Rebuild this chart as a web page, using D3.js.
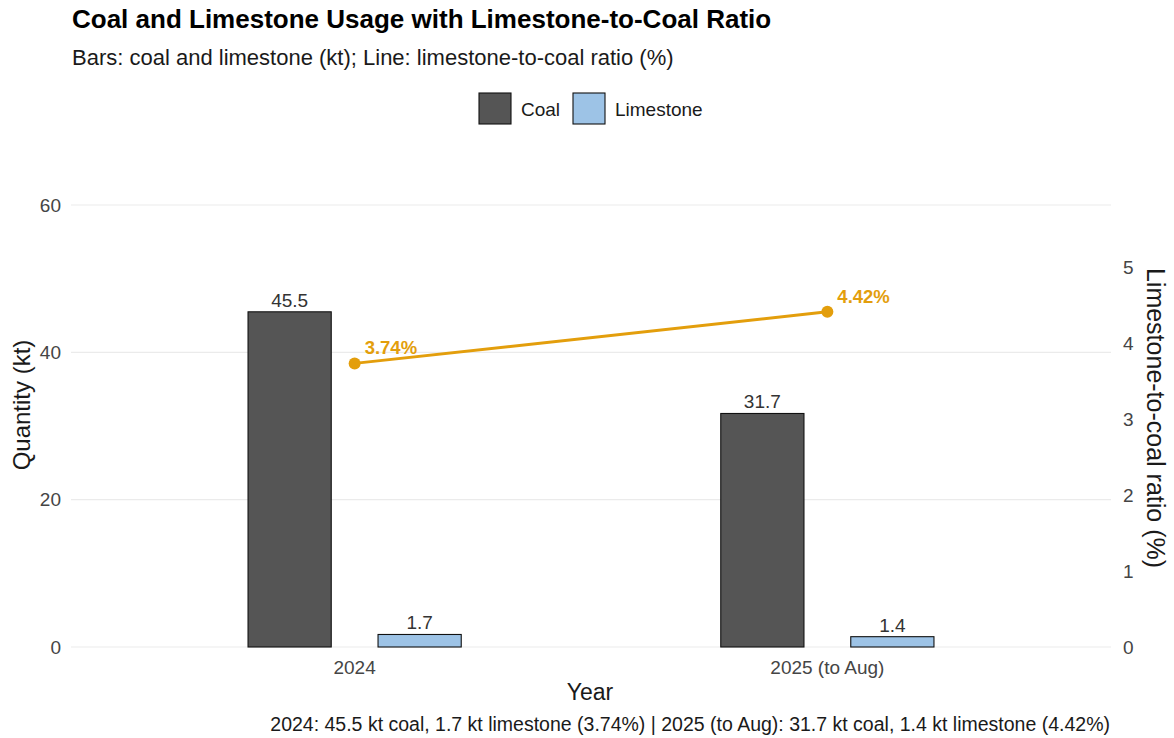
<!DOCTYPE html>
<html>
<head>
<meta charset="utf-8">
<script src="https://cdn.jsdelivr.net/npm/d3@7"></script>
<style>
  body { margin: 0; background: #fff; }
  svg { font-family: "Liberation Sans", Arial, sans-serif; }
</style>
</head>
<body>
<svg id="chart" width="1174" height="738"></svg>
<script>
// Data
const years = ["2024", "2025 (to Aug)"];
const coal = [45.5, 31.7];
const limestone = [1.7, 1.4];
const ratio = [3.74, 4.42];
const seriesNames = ["Coal", "Limestone"];
const leftTicks = [0, 20, 40, 60];
const rightTicks = [0, 1, 2, 3, 4, 5];

const svg = d3.select("#chart");
const FONT = "Liberation Sans, Arial, sans-serif";

const panel = { left: 71, right: 1111, top: 183, bottom: 647 };

// Secondary axis: ratio rescaled onto the quantity axis
const k = d3.max(coal) / d3.max(ratio);

// Discrete x positions with 0.6 expansion on each side
const xPos = d3.scaleLinear().domain([-0.6, years.length - 0.4]).range([panel.left, panel.right]);
const unit = xPos(1) - xPos(0);
const cx = i => xPos(i);

const y = d3.scaleLinear().domain([0, 60]).range([panel.bottom, 205]);
const yR = d3.scaleLinear().domain([0, 5]).range([panel.bottom, y(5 * k)]);

const colors = { Coal: "#555555", Limestone: "#9dc3e6" };
const lineColor = "#e39e0c";

// Grid lines
svg.append("g").selectAll("line").data(leftTicks).join("line")
  .attr("x1", panel.left).attr("x2", panel.right)
  .attr("y1", d => y(d)).attr("y2", d => y(d))
  .attr("stroke", "#ebebeb").attr("stroke-width", 1.1);

// Left axis
const gL = svg.append("g").attr("transform", `translate(${panel.left},0)`)
  .call(d3.axisLeft(y).tickValues(leftTicks).tickSize(0).tickPadding(10));
gL.select(".domain").remove();
gL.selectAll("text").attr("font-size", 19).attr("fill", "#454545").attr("font-family", FONT);

// Right axis
const gR = svg.append("g").attr("transform", `translate(${panel.right},0)`)
  .call(d3.axisRight(yR).tickValues(rightTicks).tickFormat(d3.format("d")).tickSize(0).tickPadding(12));
gR.select(".domain").remove();
gR.selectAll("text").attr("font-size", 19).attr("fill", "#454545").attr("font-family", FONT);

// Bars
const barW = 0.176 * unit;
const offset = 0.1375 * unit;
const bars = [];
years.forEach((yr, i) => {
  bars.push({ s: "Coal", v: coal[i], x: cx(i) - offset });
  bars.push({ s: "Limestone", v: limestone[i], x: cx(i) + offset });
});
svg.append("g").selectAll("rect").data(bars).join("rect")
  .attr("x", d => d.x - barW / 2).attr("width", barW)
  .attr("y", d => y(d.v)).attr("height", d => y(0) - y(d.v))
  .attr("fill", d => colors[d.s]).attr("stroke", "#111").attr("stroke-width", 1.1);

svg.append("g").selectAll("text").data(bars).join("text")
  .attr("x", d => d.x).attr("y", d => y(d.v) - 5)
  .attr("text-anchor", "middle").attr("font-size", 19).attr("fill", "#333")
  .text(d => d3.format(".1f")(d.v));

// Ratio line
const pts = ratio.map((r, i) => ({ r, x: cx(i), y: y(r * k) }));
svg.append("path").datum(pts)
  .attr("d", d3.line().x(d => d.x).y(d => d.y))
  .attr("fill", "none").attr("stroke", lineColor).attr("stroke-width", 3);
svg.append("g").selectAll("circle").data(pts).join("circle")
  .attr("cx", d => d.x).attr("cy", d => d.y).attr("r", 6).attr("fill", lineColor);
svg.append("g").selectAll("text").data(pts).join("text")
  .attr("x", d => d.x + 10).attr("y", d => d.y - 9)
  .attr("font-size", 18.5).attr("font-weight", "bold").attr("fill", lineColor)
  .text(d => d.r.toFixed(2) + "%");

// X axis labels
svg.append("g").selectAll("text").data(years).join("text")
  .attr("x", (d, i) => cx(i)).attr("y", 674)
  .attr("text-anchor", "middle").attr("font-size", 19).attr("fill", "#454545")
  .text(d => d);

// Axis titles
svg.append("text").attr("x", 590).attr("y", 700)
  .attr("text-anchor", "middle").attr("font-size", 23).attr("fill", "#1a1a1a").text("Year");
svg.append("text").attr("transform", "translate(30,405) rotate(-90)")
  .attr("text-anchor", "middle").attr("font-size", 24).attr("fill", "#1a1a1a").text("Quantity (kt)");
svg.append("text").attr("transform", "translate(1147,418) rotate(90)")
  .attr("text-anchor", "middle").attr("font-size", 25).attr("fill", "#1a1a1a").text("Limestone-to-coal ratio (%)");

// Title and subtitle
svg.append("text").attr("x", 72).attr("y", 28).attr("font-size", 26).attr("font-weight", "bold")
  .attr("fill", "#000").text("Coal and Limestone Usage with Limestone-to-Coal Ratio");
svg.append("text").attr("x", 72).attr("y", 65).attr("font-size", 22).attr("fill", "#1a1a1a")
  .text("Bars: coal and limestone (kt); Line: limestone-to-coal ratio (%)");

// Legend
const legX = [479, 573];
const legend = svg.append("g");
seriesNames.forEach((s, i) => {
  legend.append("rect").attr("x", legX[i]).attr("y", 93).attr("width", 32).attr("height", 31)
    .attr("fill", colors[s]).attr("stroke", "#111").attr("stroke-width", 1.1);
  legend.append("text").attr("x", legX[i] + 42).attr("y", 116).attr("font-size", 19)
    .attr("fill", "#1a1a1a").text(s);
});

// Caption
const caption = years.map((yr, i) =>
  `${yr}: ${coal[i].toFixed(1)} kt coal, ${limestone[i].toFixed(1)} kt limestone (${ratio[i].toFixed(2)}%)`).join(" | ");
svg.append("text").attr("x", 1110).attr("y", 731).attr("text-anchor", "end")
  .attr("font-size", 19.5).attr("fill", "#1a1a1a").text(caption);
</script>
</body>
</html>
